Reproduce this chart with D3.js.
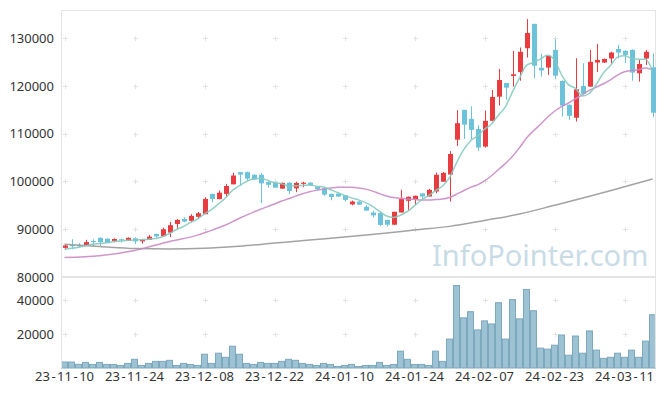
<!DOCTYPE html>
<html>
<head>
<meta charset="utf-8">
<script src="https://cdn.jsdelivr.net/npm/d3@7/dist/d3.min.js"></script>
<style>
  html, body { margin: 0; padding: 0; background: #fff; }
  svg { display: block; font-family: "Noto Sans", "Open Sans", sans-serif; }
</style>
</head>
<body>
<svg id="chart" width="665" height="396"></svg>
<script>
// ---------- DATA ----------
const dates = [
  "23-11-10","23-11-13","23-11-14","23-11-15","23-11-16","23-11-17","23-11-20","23-11-21","23-11-22","23-11-23",
  "23-11-24","23-11-27","23-11-28","23-11-29","23-11-30","23-12-01","23-12-04","23-12-05","23-12-06","23-12-07",
  "23-12-08","23-12-11","23-12-12","23-12-13","23-12-14","23-12-15","23-12-18","23-12-19","23-12-20","23-12-21",
  "23-12-22","23-12-26","23-12-27","23-12-28","24-01-02","24-01-03","24-01-04","24-01-05","24-01-08","24-01-09",
  "24-01-10","24-01-11","24-01-12","24-01-15","24-01-16","24-01-17","24-01-18","24-01-19","24-01-22","24-01-23",
  "24-01-24","24-01-25","24-01-26","24-01-29","24-01-30","24-01-31","24-02-01","24-02-02","24-02-05","24-02-06",
  "24-02-07","24-02-08","24-02-13","24-02-14","24-02-15","24-02-16","24-02-19","24-02-20","24-02-21","24-02-22",
  "24-02-23","24-02-26","24-02-27","24-02-28","24-02-29","24-03-04","24-03-05","24-03-06","24-03-07","24-03-08",
  "24-03-11","24-03-12","24-03-13","24-03-14","24-03-15"
];
const open = [
  86100,86700,86700,86600,87550,88200,88000,87550,87900,87600,
  88100,87450,87800,89000,88550,89300,91100,92150,91750,92600,
  93150,97400,96300,97400,99400,101950,101950,101400,101400,99900,
  99750,98500,99750,98550,99500,99750,98900,98550,97400,97450,
  97100,95200,95800,94700,93500,93400,91950,90950,93500,95950,
  96300,97500,96850,97900,99950,101450,108750,115000,113100,111000,
  107300,112700,117750,120600,122100,122900,127900,133000,123800,123850,
  127550,121050,116050,113350,120000,119850,124900,124900,125750,127750,
  127350,127550,122650,125750,123900
];
const high = [
  86900,87900,87100,87800,87900,88300,88100,88100,88000,88300,
  88300,88000,88800,89100,90350,91550,92150,92500,93150,93600,
  96700,97450,98100,99500,101850,102000,102050,101500,101750,100000,
  99800,99800,99850,99950,99950,99850,98950,98600,97450,97500,
  97100,96000,95850,95050,93900,93500,92000,93700,98250,96850,
  97050,97550,98450,101850,102000,106350,114900,115000,115750,111850,
  114850,119150,123550,120650,127350,128050,134000,133000,126750,126400,
  129800,121150,116150,125800,124750,127550,128800,125750,127150,128600,
  127450,127650,125450,127550,126850
];
const low = [
  85800,85800,86200,86500,86500,86500,87100,87250,87200,87550,
  86900,87000,87800,88250,88450,88350,90000,91450,91450,92200,
  93150,95650,96300,96850,99400,99050,100100,100350,95450,98700,
  98700,98450,97400,97750,98800,99050,98250,97000,96050,96750,
  95800,95000,95100,93800,92500,90700,90550,90900,93500,94050,
  95100,96150,96850,97550,99950,95800,107450,108900,108900,106400,
  107100,112700,115900,117100,119850,121100,125950,121600,121950,122300,
  121400,113600,112900,112550,118350,119850,122900,124850,124750,125800,
  124750,121100,120900,124400,113450
];
const close = [
  86600,86500,86550,87300,87400,87300,87200,87950,87750,88200,
  87450,87750,88450,88500,90000,90850,91950,91600,92800,93350,
  96350,96350,97650,99050,101250,101450,100600,100400,99600,99300,
  98700,99700,98000,99700,99750,99200,98400,97250,96750,96850,
  96150,95800,95150,93900,92900,90900,90950,93650,96300,96800,
  97000,96850,98250,101400,101800,105750,112200,111900,110800,107100,
  112700,117700,121250,119650,122450,127150,131100,124250,123250,126300,
  122150,115900,113750,119300,118350,125050,125450,125650,127000,127000,
  126500,122800,124600,127150,114400
];
const volume = [
  3500,3500,2150,3300,2100,3300,2100,2100,1500,2700,
  5100,1500,2700,3900,3900,4500,1500,2700,2100,1500,
  8100,2700,8700,6300,12800,8100,2700,2100,3300,2700,
  2700,3900,5100,4500,2700,2100,1500,2700,2100,900,
  1500,2100,900,1500,1500,3300,1500,2100,9900,5100,
  2100,2100,1500,9900,3900,17000,48500,29500,33100,22400,
  27700,25900,38400,17000,40200,28900,46200,33700,11700,11100,
  13400,19400,7500,18800,8700,21800,10500,5700,6300,8700,
  6300,10500,6300,15800,31300
];
// 20-day average before enough days are shown
const ma20EarlyIdx = [0, 5, 10, 15];
const ma20EarlyVal = [84060, 84450, 85550, 87450];
// 5-day average for the first days
const ma5EarlyVal = [85800, 86000, 86250, 86550];
// long moving average
const maLongIdx = [0, 5, 10, 15, 20, 25, 30, 35, 40, 45, 50, 55, 60, 65, 70, 75, 80, 84];
const maLongVal = [86840, 86400, 85980, 85880, 86000, 86450, 87100, 87750, 88350, 89050, 89850, 90600, 91850, 93190, 95010, 96890, 98900, 100500];

const priceTicks = [80000, 90000, 100000, 110000, 120000, 130000];
const volumeTicks = [20000, 40000];
const xTickIdx = [0, 10, 20, 30, 40, 50, 60, 70, 80];
const priceDomain = [80000, 135900];
const volumeDomain = [0, 53500];
const watermark = "InfoPointer.com";

// ---------- DERIVED ----------
const n = dates.length;
const idx = d3.range(n);
const ma5 = idx.map(i => i < 4 ? ma5EarlyVal[i] : d3.mean(close.slice(i - 4, i + 1)));
const ma20 = [];
ma20EarlyIdx.forEach((k, j) => ma20.push([k, ma20EarlyVal[j]]));
for (let i = 19; i < n; i++) ma20.push([i, d3.mean(close.slice(i - 19, i + 1))]);
const maLong = maLongIdx.map((k, j) => [k, maLongVal[j]]);

// ---------- LAYOUT ----------
const svg = d3.select("#chart");
const plotLeft = 61, plotRight = 656, plotTop = 10, priceBottom = 277, volBottom = 368;
const frameColor = "#e4e4e4";
const red = "#e83c41", blue = "#6bc2d9";

const x = d3.scaleBand().domain(idx).range([plotLeft, plotRight]).padding(0);
const cx = i => x(i) + x.bandwidth() / 2;
const yP = d3.scaleLinear().domain(priceDomain).range([priceBottom, plotTop]);
const yV = d3.scaleLinear().domain(volumeDomain).range([volBottom, priceBottom]);

// watermark
svg.append("text")
  .attr("x", 432).attr("y", 266)
  .style("font-family", "'Noto Sans', sans-serif")
  .style("font-size", "29px")
  .style("fill", "#c9dce6")
  .text(watermark);

// grid crosses
const crossG = svg.append("g").attr("stroke", "#e2e2e2").attr("stroke-width", 1);
function cross(px, py) {
  crossG.append("line").attr("x1", px - 2.5).attr("x2", px + 2.5).attr("y1", py).attr("y2", py);
  crossG.append("line").attr("x1", px).attr("x2", px).attr("y1", py - 2.5).attr("y2", py + 2.5);
}
xTickIdx.forEach(i => {
  priceTicks.filter(t => t > priceDomain[0]).forEach(t => cross(Math.round(cx(i)) + 0.5, Math.round(yP(t)) + 0.5));
  volumeTicks.forEach(t => cross(Math.round(cx(i)) + 0.5, Math.round(yV(t)) + 0.5));
});

// volume bars
svg.append("g").selectAll("rect").data(idx).join("rect")
  .attr("x", i => x(i) + 0.5)
  .attr("width", x.bandwidth() - 1)
  .attr("y", i => yV(volume[i]))
  .attr("height", i => yV(0) - yV(volume[i]))
  .attr("fill", "#9cc2d3")
  .attr("stroke", "#7ea8bc")
  .attr("stroke-width", 1);

// frame
const frame = svg.append("g").attr("stroke", frameColor).attr("fill", "none");
frame.append("line").attr("x1", plotLeft).attr("x2", 655.5).attr("y1", plotTop + 0.5).attr("y2", plotTop + 0.5);
frame.append("line").attr("x1", plotLeft + 0.5).attr("x2", plotLeft + 0.5).attr("y1", plotTop).attr("y2", volBottom);
frame.append("line").attr("x1", 655.5).attr("x2", 655.5).attr("y1", plotTop).attr("y2", volBottom);
frame.append("line").attr("x1", plotLeft).attr("x2", 655.5).attr("y1", priceBottom).attr("y2", priceBottom).attr("stroke-width", 2);

// candles
const cg = svg.append("g");
const col = i => close[i] >= open[i] ? red : blue;
cg.selectAll("line").data(idx).join("line")
  .attr("x1", i => Math.round(cx(i)) + 0.5).attr("x2", i => Math.round(cx(i)) + 0.5)
  .attr("y1", i => yP(high[i])).attr("y2", i => yP(low[i]))
  .attr("stroke", col).attr("stroke-width", 1);
cg.selectAll("rect").data(idx).join("rect")
  .attr("x", i => Math.round(cx(i)) - 2)
  .attr("width", 5)
  .attr("y", i => yP(Math.max(open[i], close[i])))
  .attr("height", i => Math.max(1.2, Math.abs(yP(open[i]) - yP(close[i]))))
  .attr("fill", col);

// moving averages
const line = d3.line().x(d => cx(d[0])).y(d => yP(d[1])).curve(d3.curveMonotoneX);
svg.append("path").datum(maLong).attr("d", line)
  .attr("fill", "none").attr("stroke", "#999").attr("stroke-width", 1.5).attr("opacity", 0.9);
svg.append("path").datum(ma20).attr("d", line)
  .attr("fill", "none").attr("stroke", "#c98bc5").attr("stroke-width", 1.5).attr("opacity", 0.9);
svg.append("path").datum(idx.map(i => [i, ma5[i]])).attr("d", line)
  .attr("fill", "none").attr("stroke", "#86cbc0").attr("stroke-width", 1.5).attr("opacity", 0.9);

// axes
const axisText = sel => sel.selectAll("text").style("font-size", "13px").style("fill", "#333")
  .style("font-family", "'Noto Sans', sans-serif");
const yAxisP = svg.append("g").attr("transform", `translate(${plotLeft},0)`)
  .call(d3.axisLeft(yP).tickValues(priceTicks).tickSize(0).tickPadding(7).tickFormat(d3.format("d")));
yAxisP.select(".domain").remove();
axisText(yAxisP);
const yAxisV = svg.append("g").attr("transform", `translate(${plotLeft},0)`)
  .call(d3.axisLeft(yV).tickValues(volumeTicks).tickSize(0).tickPadding(7).tickFormat(d3.format("d")));
yAxisV.select(".domain").remove();
axisText(yAxisV);
const xAxis = svg.append("g").attr("transform", `translate(0,${volBottom})`)
  .call(d3.axisBottom(x).tickValues(xTickIdx).tickSize(0).tickPadding(4).tickFormat(i => dates[i]));
xAxis.select(".domain").remove();
axisText(xAxis);
// widen the hyphens in the date labels like the reference
xAxis.selectAll(".tick text").each(function(i) {
  const t = d3.select(this);
  const parts = dates[i].split("-");
  t.text(null);
  parts.forEach((p, k) => {
    if (k > 0) t.append("tspan").attr("dx", 1.5).text("-");
    t.append("tspan").attr("dx", k > 0 ? 1.5 : 0).text(p);
  });
});
</script>
</body>
</html>
